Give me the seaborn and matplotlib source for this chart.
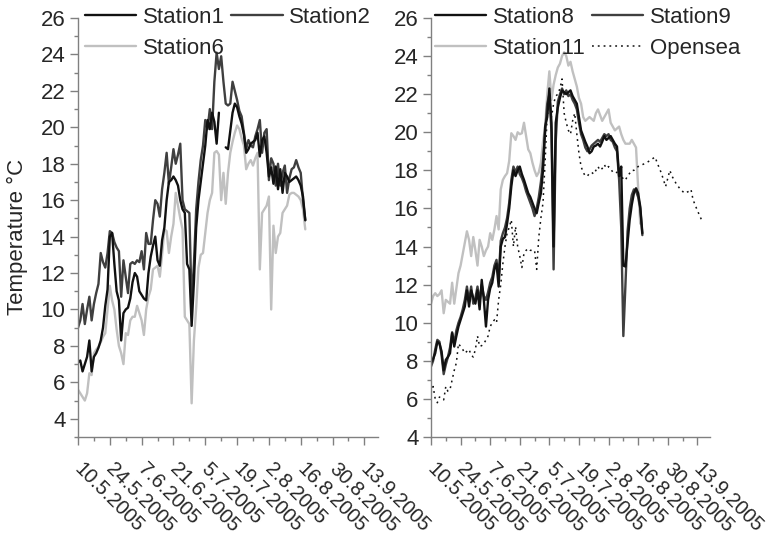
import numpy as np
import pandas as pd
import seaborn as sns
import matplotlib.pyplot as plt
import matplotlib.transforms as mtransforms
from matplotlib.ticker import MultipleLocator
from matplotlib.lines import Line2D

#_____ data (daily means, day 0 = 10.5.2005)
start = pd.Timestamp('2005-05-10')
nan = np.nan

station1 = [7.1, 7.2, 6.6, 7.0, 7.4, 8.3, 6.6, 7.4, 7.6, 7.9,
            8.3, 9.0, 10.2, 11.1, 14.0, 14.2, 12.5, 11.0, 10.5, 8.3,
            9.8, 10.0, 10.1, 10.6, 11.5, 12.0, 11.8, 11.0, 10.8, 10.6,
            10.5, 12.0, 12.9, 13.5, 14.0, 12.7, 12.4, 13.8, 14.5, 16.0,
            17.0, 17.1, 17.3, 17.1, 16.8, 16.0, 15.5, 15.3, 12.5, 12.2,
            9.1, 11.5, 14.5, 16.0, 17.0, 18.0, 19.0, 20.4, 19.9, 20.8,
            20.3, 19.1, 20.8, nan, nan, 18.9, 18.8, 19.8, 20.8, 21.3,
            21.1, 20.6, 20.2, 19.6, 18.6, 18.8, 19.1, 19.2, 19.3, 19.7,
            18.4, 19.3, 19.5, 18.6, 17.3, 17.8, 16.9, 17.85, 16.6, 17.7,
            16.4, 17.5, 17.3, 17.0, 17.1, 17.2, 17.3, 17.1, 16.8, 16.2, 14.9]
station2 = [9.0, 9.4, 10.3, 9.2, 10.0, 10.7, 9.4, 10.3, 10.9, 11.4,
            13.1, 12.6, 12.3, 13.1, 14.3, 14.2, 13.7, 13.4, 13.2, 10.7,
            12.7, 11.8, 10.9, 12.5, 12.6, 12.5, 12.7, 12.6, 13.2, 12.2,
            14.2, 13.6, 13.6, 14.9, 16.0, 15.8, 15.1, 16.6, 17.5, 18.6,
            16.9, 17.8, 18.8, 18.0, 18.5, 19.1, 16.0, 15.5, 15.4, 15.3,
            10.3, 12.5, 15.5, 17.0, 18.2, 19.0, 20.4, 19.9, 21.0, 19.9,
            22.5, 24.1, 23.2, 23.9, 22.5, 21.3, 21.2, 21.3, 22.5, 22.0,
            21.5, 20.9, 20.6, 19.7, 18.8, 19.3, 19.0, 18.9, 19.5, 19.9,
            20.4, 18.6, 19.7, 19.9, 17.1, 18.3, 18.0, 16.8, 18.0, 16.8,
            17.5, 17.9, 16.4, 17.2, 17.7, 17.8, 18.2, 17.8, 17.5, 16.0, 14.9]
station6 = [5.6, 5.4, 5.2, 5.0, 5.4, 6.5, 6.4, 7.6, 7.8, 7.95,
            8.2, 8.5, 8.7, 10.0, 11.3, 10.5, 10.0, 8.9, 8.0, 7.6,
            7.0, 8.7, 8.6, 9.4, 9.6, 9.6, 10.2, 9.8, 9.4, 8.6,
            10.0, 10.7, 11.1, 12.2, 12.3, 12.4, 11.8, 13.0, 14.4, 14.3,
            13.1, 14.0, 14.7, 16.4, 15.7, 15.0, 14.4, 9.6, 9.4, 9.2,
            4.85, 8.3, 10.1, 12.3, 13.0, 13.1, 14.2, 15.3, 16.0, 16.4,
            18.6, 18.7, 18.5, 16.0, 17.5, 15.8, 17.5, 18.6, 19.2, 19.7,
            20.1, 19.9, 19.4, 19.0, 17.7, 18.0, 18.2, 17.9, 18.3, 18.6,
            12.2, 15.3, 15.5, 15.7, 16.2, 10.0, 14.6, 13.1, 14.0, 14.2,
            15.3, 15.5, 15.7, 16.3, 16.4, 16.4, 16.3, 16.2, 16.0, 15.5, 14.4]

station8 = [7.9, 8.1, 8.4, 9.0, 8.9, 8.5, 7.5, 8.05, 8.2, 8.4,
            9.45, 8.75, 9.3, 9.8, 10.15, 10.5, 10.85, 11.7, 10.85, 11.7,
            11.3, 11.0, 11.7, 10.7, 12.25, 11.2, 9.8, 11.2, 11.8, 12.1,
            12.8, 13.1, 11.9, 14.0, 14.4, 14.5, 15.2, 16.0, 17.15, 18.0,
            17.7, 18.0, 18.2, 17.8, 17.5, 17.15, 16.8, 16.6, 16.3, 16.0,
            15.75, 16.3, 16.8, 18.0, 20.3, 20.8, 22.3, 20.5, 14.0, 20.5,
            21.3, 21.8, 22.2, 22.1, 22.0, 22.1, 22.2, 21.9, 21.7, 21.5,
            20.8, 20.1, 19.8, 19.5, 19.25, 18.9, 19.0, 19.25, 19.3, 19.4,
            19.25, 19.5, 19.8, 19.6, 19.7, 19.8, 19.6, 19.4, 19.25, 17.7,
            18.2, 13.0, 12.95, 14.2, 15.4, 16.2, 16.8, 17.06, 16.8, 16.1, 14.7]
station9 = [7.7, 8.0, 8.6, 9.1, 9.0, 8.3, 7.3, 7.8, 8.2, 8.7,
            9.5, 8.9, 9.6, 10.0, 10.3, 10.7, 11.2, 11.9, 11.1, 11.9,
            11.0, 11.3, 11.9, 11.1, 12.0, 11.4, 11.2, 11.6, 12.1, 12.4,
            13.0, 13.3, 12.3, 14.3, 14.7, 15.0, 15.5, 16.3, 17.5, 18.2,
            17.9, 18.2, 17.8, 17.6, 17.3, 16.9, 16.6, 16.3, 16.0, 15.6,
            16.0, 16.6, 17.4, 18.5, 20.0, 21.5, 22.0, 20.0, 12.8, 19.5,
            21.6, 22.0, 22.3, 22.0, 22.2, 21.9, 22.0, 21.7, 21.5, 21.2,
            20.5, 19.9, 19.6, 19.2, 19.0, 19.1, 19.3, 19.4, 19.5, 19.6,
            19.5, 19.7, 19.9, 19.8, 19.9, 19.6, 19.5, 19.2, 19.0, 17.5,
            15.0, 9.3, 12.0, 14.8, 16.0, 16.7, 17.0, 16.9, 16.6, 16.0, 14.6]
station11 = [11.0, 11.4, 11.55, 11.4, 11.5, 11.7, 10.5, 11.2, 11.1, 11.0,
             12.1, 11.0, 11.8, 12.6, 13.0, 13.6, 14.2, 14.8, 14.35, 13.5,
             14.5, 13.8, 13.0, 14.35, 14.0, 13.5, 13.8, 14.0, 14.7, 14.35,
             14.9, 15.6, 14.9, 17.0, 17.5, 17.7, 17.85, 18.5, 19.95, 19.8,
             19.6, 20.0, 19.9, 19.95, 20.5, 19.8, 19.1, 18.9, 18.4, 18.0,
             17.7, 17.9, 18.4, 19.5, 20.3, 22.0, 23.2, 21.7, 22.5, 23.0,
             23.4, 23.6, 24.0, 24.2, 24.0, 23.5, 23.7, 23.2, 22.8, 22.4,
             21.8, 21.5, 20.8, 20.6, 20.7, 20.8, 20.7, 20.6, 21.0, 21.2,
             20.9, 20.6, 20.8, 21.0, 21.2, 20.5, 20.3, 20.1, 20.2, 20.3,
             19.9, 19.6, 19.4, 19.4, 19.4, 19.6, 19.4, 19.2, 17.1, 15.2]
opensea_day = list(range(0, 97)) + [98, 100, 102, 104, 106, 107, 109, 111, 113, 114,
                                    116, 118, 120, 122, 123, 124, 126, 128]
opensea = [6.3, 6.65, 6.0, 5.8, 6.1, 6.0, 5.95, 6.65, 6.4, 6.5,
           7.0, 7.5, 7.9, 8.9, 8.75, 8.6, 8.4, 8.5, 8.6, 8.3,
           8.2, 8.6, 9.3, 8.75, 8.8, 8.9, 9.1, 9.3, 9.8, 10.0,
           10.15, 10.0, 11.2, 12.0, 13.1, 14.0, 14.7, 15.0, 15.4, 14.0,
           15.05, 14.0, 13.5, 12.9, 13.65, 13.8, 13.9, 13.8, 13.8, 13.8,
           12.8, 14.5, 15.5, 16.3, 18.5, 21.0, 21.0, 20.8, 21.5, 21.9,
           22.0, 22.3, 22.8, 21.0, 20.5, 20.1, 19.9, 20.6, 21.0, 19.9,
           18.9, 18.2, 17.9, 17.7, 17.7, 17.85, 17.9, 17.8, 18.0, 18.2,
           18.0, 18.1, 18.3, 18.1, 18.2, 18.1, 17.9, 17.85, 17.9, 18.0,
           17.8, 17.5, 17.5, 17.7, 17.85, 18.0, 18.0,
           18.2, 18.3, 18.4, 18.55, 18.7, 18.4, 17.85, 17.15, 18.0, 17.7,
           17.3, 17.0, 16.8, 16.9, 17.0, 16.45, 15.9, 15.4]

tick_dates = pd.date_range(start, periods=10, freq='14D')
tick_labels = [f'{d.day}.{d.month}.{d.year}' for d in tick_dates]

black, dark, light = '#111111', '#3f3f3f', '#c0c0c0'

left_series = [('Station6', station6, light, '-', 1.7),
               ('Station2', station2, dark, '-', 1.7),
               ('Station1', station1, black, '-', 1.7)]
right_series = [('Station11', station11, light, '-', 1.7),
                ('Opensea', opensea, black, (0, (1.2, 2.6)), 1.1),
                ('Station9', station9, dark, '-', 1.7),
                ('Station8', station8, black, '-', 1.7)]


def to_frame(vals, days=None):
    if days is None:
        days = range(len(vals))
    df = pd.DataFrame({'date': start + pd.to_timedelta(list(days), unit='D'), 'temp': vals})
    df['seg'] = df.temp.isna().cumsum()
    return df.dropna()


sns.set_style('ticks')
plt.rcParams['font.family'] = ['Liberation Sans', 'DejaVu Sans']
plt.rcParams['font.size'] = 16

fig = plt.figure(figsize=(7.71, 5.42), dpi=100)
ax1 = fig.add_axes([78/771, 1-437/542, 300/771, 419/542])
ax2 = fig.add_axes([431/771, 1-437/542, 279/771, 419/542])

handles = {}
for ax, series in [(ax1, left_series), (ax2, right_series)]:
    for name, vals, col, ls, lw in series:
        days = opensea_day if name == 'Opensea' else None
        sns.lineplot(data=to_frame(vals, days), x='date', y='temp', units='seg', estimator=None,
                     color=col, linestyle=ls, linewidth=lw, ax=ax)
        handles[name] = Line2D([], [], color=col, linestyle=ls, linewidth=lw)

shift = mtransforms.ScaledTranslation(6/100, 0, fig.dpi_scale_trans)
for ax, ylo in [(ax1, 3), (ax2, 4)]:
    ax.set_xlim(start, start + pd.Timedelta(days=132))
    ax.set_ylim(ylo, 26)
    ax.set_xticks(tick_dates)
    ax.set_xticklabels(tick_labels, rotation=-45, ha='left', va='top',
                       rotation_mode='anchor', fontsize=14.5)
    ax.set_xticks(pd.date_range(start, periods=19, freq='7D'), minor=True)
    ax.set_yticks(range(4, 27, 2))
    ax.yaxis.set_minor_locator(MultipleLocator(1))
    ax.set_xlabel('')
    ax.set_ylabel('')
    ax.tick_params(axis='both', which='major', length=6, width=1, color='#808080', pad=3)
    ax.tick_params(axis='y', which='major', labelsize=16)
    ax.tick_params(axis='both', which='minor', length=3, width=1, color='#808080')
    ax.tick_params(axis='x', which='major', pad=10)
    for lab in ax.get_xticklabels():
        lab.set_transform(lab.get_transform() + shift)
    for s in ['left', 'bottom']:
        ax.spines[s].set_color('#808080')
        ax.spines[s].set_linewidth(1)
    sns.despine(ax=ax)

ax1.set_ylabel('Temperature °C', fontsize=16)
ax1.yaxis.set_label_coords(-0.165, 0.477)

leg_kw = dict(ncol=2, frameon=False, fontsize=16, handlelength=2.3, handletextpad=0.3,
              columnspacing=0.3, labelspacing=0.45, borderpad=0, borderaxespad=0,
              loc='upper left', bbox_transform=fig.transFigure)
ax1.legend([handles[k] for k in ['Station1', 'Station6', 'Station2']],
           ['Station1', 'Station6', 'Station2'], bbox_to_anchor=(85/771, 1-7/542), **leg_kw)
ax2.legend([handles[k] for k in ['Station8', 'Station11', 'Station9', 'Opensea']],
           ['Station8', 'Station11', 'Station9', 'Opensea'], bbox_to_anchor=(435/771, 1-7/542), **leg_kw)

fig.savefig('out.png', dpi=100)
